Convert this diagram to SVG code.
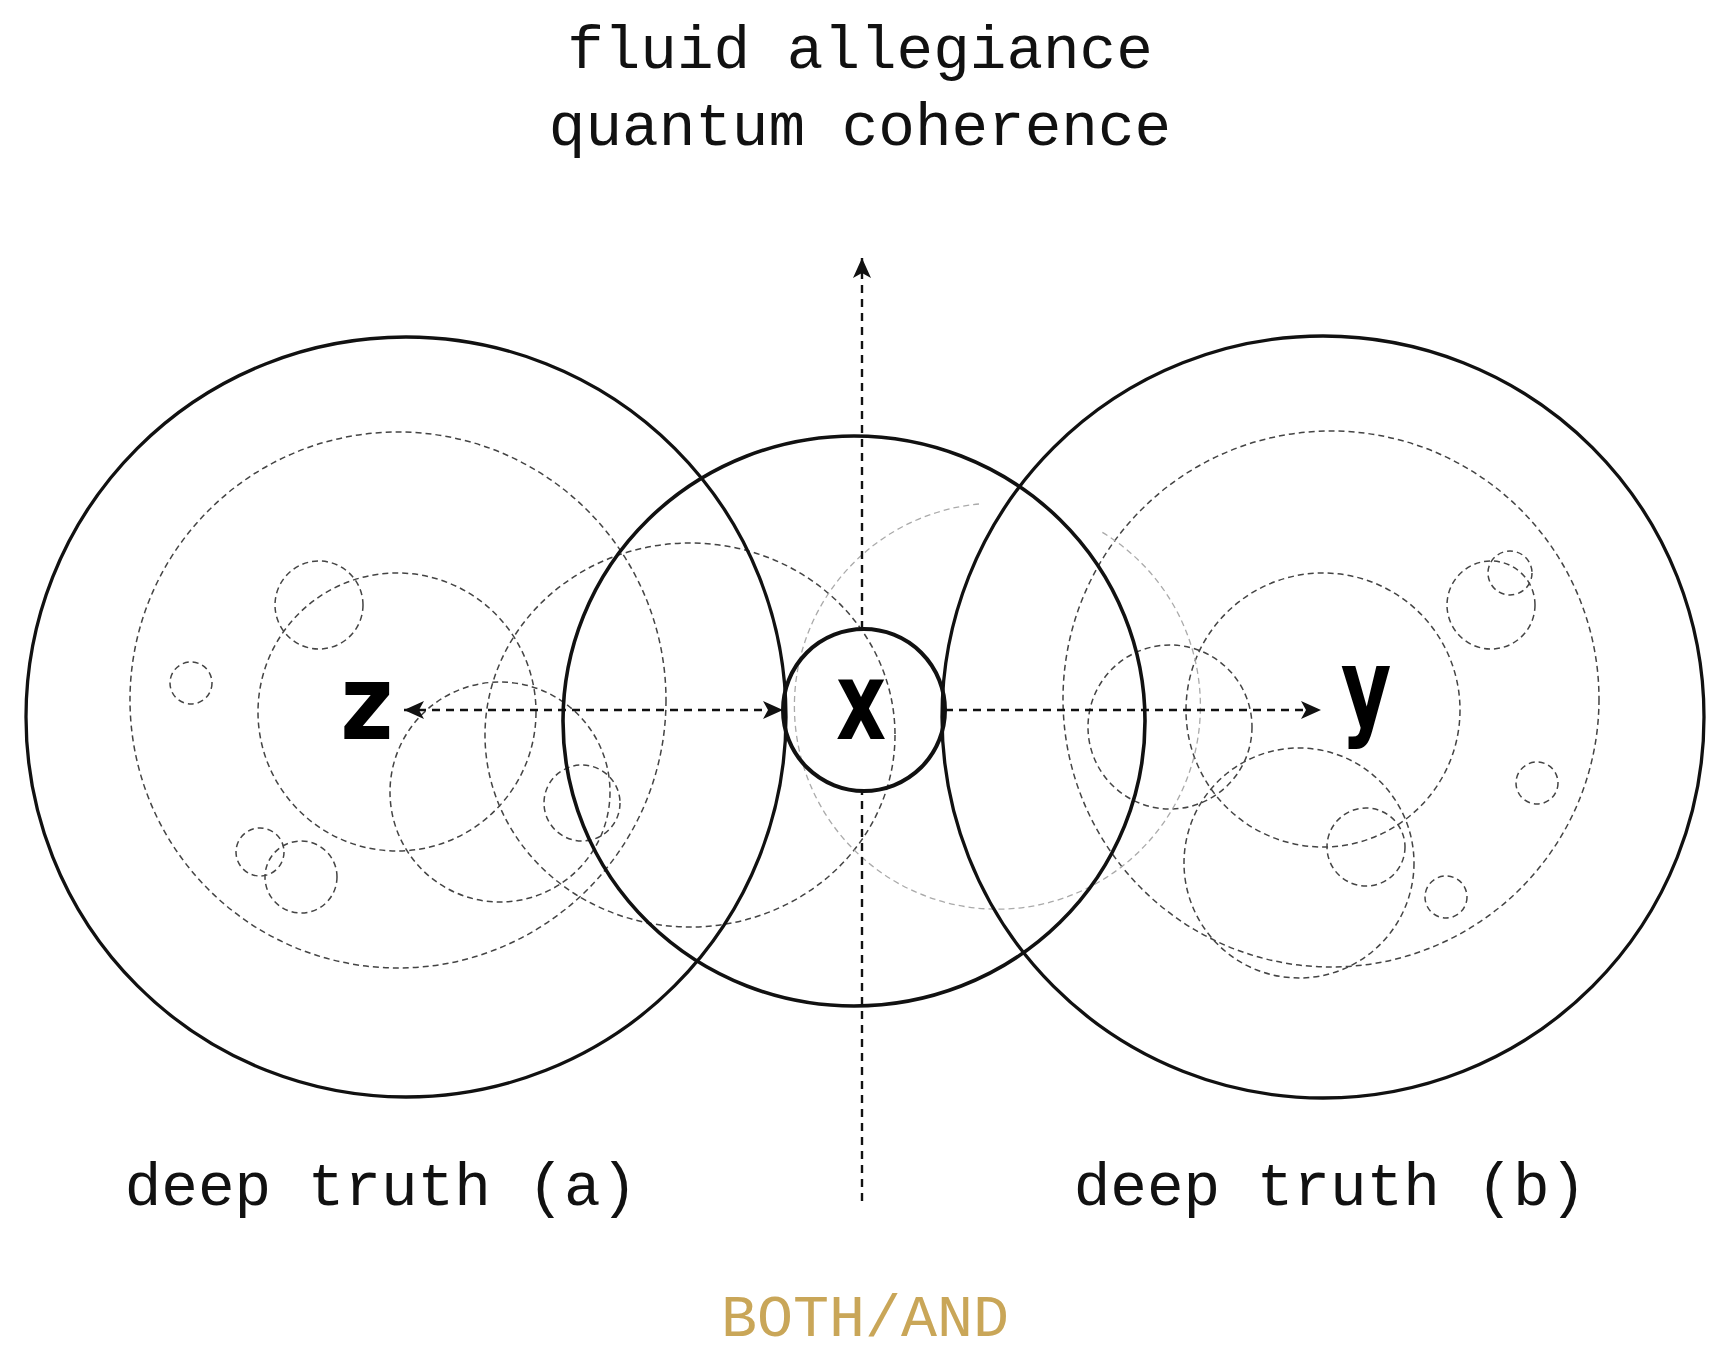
<svg xmlns="http://www.w3.org/2000/svg" width="1725" height="1356" viewBox="0 0 1725 1356">
<style>
.solid{fill:none;stroke:#111;stroke-width:3.3}
.dash{fill:none;stroke:#444;stroke-width:1.5;stroke-dasharray:6 4}
.faint{fill:none;stroke:#aaa;stroke-width:1.3;stroke-dasharray:6 4}
.conn{fill:none;stroke:#111;stroke-width:2.4;stroke-dasharray:8 6}
.title{font-family:"Liberation Mono","DejaVu Sans Mono",monospace;font-size:61px;fill:#111;text-anchor:middle}
.gold{font-family:"Liberation Mono","DejaVu Sans Mono",monospace;font-size:60px;fill:#C9A658;text-anchor:middle}
.glyph{font-family:"DejaVu Sans","Liberation Sans",sans-serif;font-weight:bold;fill:#000;text-anchor:middle}
</style>
<defs>
<marker id="ah" markerUnits="userSpaceOnUse" viewBox="0 0 22 20" markerWidth="22" markerHeight="20" refX="20" refY="10" orient="auto-start-reverse">
<path d="M0,1 L20,10 L0,19 L5,10 Z" fill="#111"/>
</marker>
</defs>
<rect width="1725" height="1356" fill="#fff"/>

<g id="texture-left">
<circle class="dash" cx="398" cy="700" r="268"/>
<circle class="dash" cx="397" cy="712" r="139"/>
<circle class="dash" cx="319" cy="605" r="44"/>
<circle class="dash" cx="191" cy="683" r="21"/>
<circle class="dash" cx="260" cy="852" r="24"/>
<circle class="dash" cx="301" cy="877" r="36"/>
<circle class="dash" cx="500" cy="792" r="110"/>
<circle class="dash" cx="582" cy="803" r="38"/>
<ellipse class="dash" cx="690" cy="735" rx="205" ry="192"/>
</g>

<g id="texture-right">
<circle class="dash" cx="1331" cy="699" r="268"/>
<circle class="dash" cx="1323" cy="710" r="137"/>
<circle class="dash" cx="1170" cy="727" r="82"/>
<circle class="dash" cx="1299" cy="863" r="115"/>
<circle class="dash" cx="1366" cy="847" r="39"/>
<circle class="dash" cx="1446" cy="897" r="21"/>
<circle class="dash" cx="1537" cy="783" r="21"/>
<circle class="dash" cx="1491" cy="605" r="44"/>
<circle class="dash" cx="1510" cy="573" r="22"/>
<path class="faint" d="M979,504 A203,203 0 1 0 1100,531"/>
</g>

<g id="node-deep-a"><circle class="solid" cx="406" cy="717" r="380"/></g>
<g id="node-deep-b"><circle class="solid" cx="1323" cy="717" r="381"/></g>
<g id="node-middle"><ellipse class="solid" cx="854" cy="721" rx="291" ry="285" style="stroke-width:3.6"/></g>
<g id="node-x">
<circle class="solid" cx="864" cy="710" r="81" style="stroke-width:4"/>
<text class="glyph" font-size="108" transform="translate(861,739) scale(0.72,1)">x</text>
</g>
<g id="node-z"><text class="glyph" font-size="104" transform="translate(367,739) scale(0.88,1)">z</text></g>
<g id="node-y"><text class="glyph" font-size="108" transform="translate(1366,726) scale(0.72,1)">y</text></g>

<g id="connectors">
<line class="conn" x1="404" y1="710" x2="783" y2="710" marker-start="url(#ah)" marker-end="url(#ah)"/>
<line class="conn" x1="945" y1="710" x2="1321" y2="710" marker-end="url(#ah)"/>
<path class="conn" d="M862,1201 L862,792 M862,629 L862,258" marker-end="url(#ah)"/>
</g>

<g id="labels">
<text class="title" x="860" y="68">fluid allegiance</text>
<text class="title" x="860" y="145">quantum coherence</text>
<text class="title" x="381" y="1205">deep truth (a)</text>
<text class="title" x="1330" y="1205">deep truth (b)</text>
<text class="gold" x="865" y="1336">BOTH/AND</text>
</g>
</svg>
